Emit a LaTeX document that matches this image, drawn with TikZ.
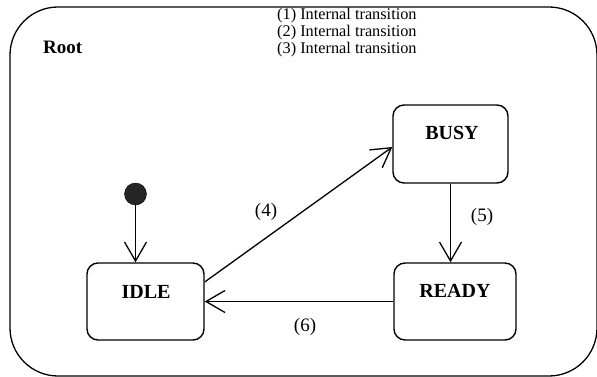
\documentclass[tikz,border=0pt]{standalone}
\usepackage{fontspec}
\setmainfont{Liberation Serif}
\usetikzlibrary{arrows.meta}
\begin{document}
\begin{tikzpicture}[x=1pt,y=-1pt,
  statebox/.style={draw, line width=1.4pt, rounded corners=11pt, minimum width=#1, minimum height=77pt, inner sep=0pt},
  statename/.style={font=\fontsize{20}{22}\selectfont\bfseries, anchor=base, inner sep=0pt},
  translbl/.style={font=\fontsize{19}{21}\selectfont, inner sep=0pt},
  trans/.style={line width=1.3pt, -{Straight Barb[length=19pt, width=22pt, line width=1.3pt]}},
  internal/.style={font=\fontsize{16.3}{17}\selectfont, anchor=base west, inner sep=0pt}
]
\useasboundingbox (0,0) rectangle (597,377);

% enclosing root state
\draw[line width=1.3pt, rounded corners=48pt] (10,7) rectangle (597,376);
\node[font=\fontsize{19}{21}\selectfont\bfseries, anchor=base west, inner sep=0pt] (rootlbl) at (43,54) {Root};

% internal transitions of the root state
\node[internal] (int1) at (277,20) {(1) Internal transition};
\node[internal] (int2) at (277,37) {(2) Internal transition};
\node[internal] (int3) at (277,54) {(3) Internal transition};

% states
\node[statebox=117pt] (idle)  at (145.5,301.5) {};
\node[statebox=115pt, minimum height=78pt] (busy)  at (450.5,144) {};
\node[statebox=122pt] (ready) at (455,301.5) {};
\node[statename] (idlelbl)  at (146,298) {IDLE};
\node[statename] (busylbl)  at (452,140) {BUSY};
\node[statename] (readylbl) at (455,297) {READY};

% initial pseudostate
\node[circle, fill=black!85, draw=black, minimum size=22pt, inner sep=0pt] (init) at (135.5,194) {};

% transitions
\draw[trans] (init) -- (init |- idle.north);
\draw[trans] ([yshift=19.5pt]idle.east) -- ([yshift=-3pt]busy.west);
\draw[trans] (busy.south) -- (busy.south |- ready.north);
\draw[trans] (ready.west) -- (idle.east);

% transition labels
\node[translbl] (l4) at (266,212) {(4)};
\node[translbl] (l5) at (482,217) {(5)};
\node[translbl] (l6) at (305,327) {(6)};
\end{tikzpicture}
\end{document}
